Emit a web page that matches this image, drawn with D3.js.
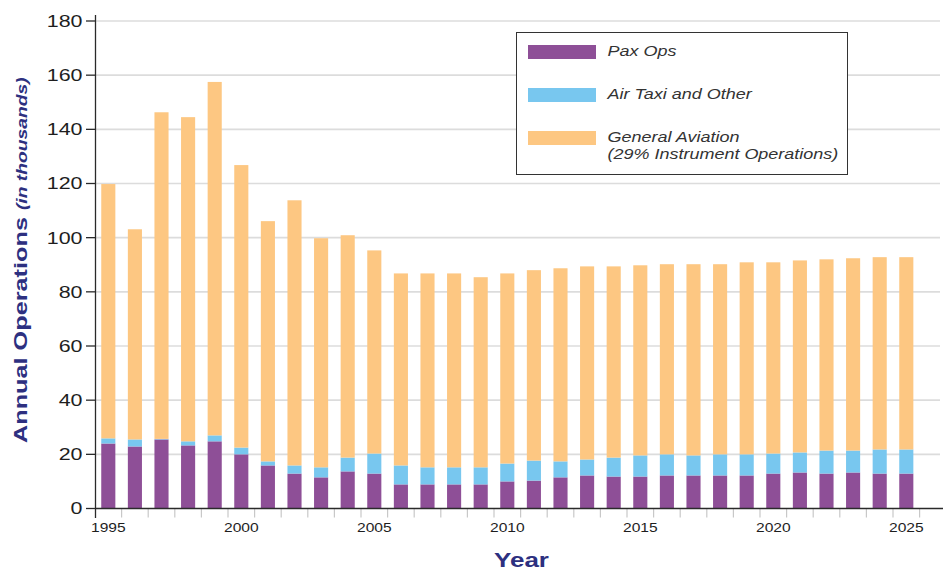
<!DOCTYPE html>
<html>
<head>
<meta charset="utf-8">
<script src="https://cdn.jsdelivr.net/npm/d3@7"></script>
<style>
  html, body { margin: 0; padding: 0; background: #fff; }
  svg { display: block; font-family: "Liberation Sans", Arial, Helvetica, sans-serif; }
</style>
</head>
<body>
<svg id="chart" width="946" height="572"></svg>
<script>
// Annual operations (thousands), 1995–2025
const years = d3.range(1995, 2026);
const paxOps = [24.0, 22.9, 25.5, 23.3, 24.8, 20.0, 15.9, 12.9, 11.5, 13.7, 12.9, 8.9, 8.9, 8.9, 8.9, 10.0,
                10.3, 11.5, 12.2, 11.8, 11.8, 12.2, 12.2, 12.2, 12.2, 12.9, 13.3, 12.9, 13.3, 12.9, 12.9];
const airTaxi = [1.9, 2.6, 0.2, 1.5, 2.2, 2.5, 1.5, 3.0, 3.7, 5.1, 7.4, 7.0, 6.3, 6.3, 6.3, 6.6,
                 7.4, 5.9, 5.9, 7.0, 7.8, 7.8, 7.4, 7.8, 7.8, 7.4, 7.4, 8.5, 8.1, 8.9, 8.9];
const generalAviation = [93.9, 77.6, 120.6, 119.7, 130.5, 104.3, 88.7, 97.9, 84.6, 82.1, 75.0, 70.9, 71.6, 71.6, 70.2, 70.2,
                         70.3, 71.3, 71.3, 70.6, 70.2, 70.2, 70.6, 70.2, 70.9, 70.6, 70.9, 70.6, 71.0, 71.0, 71.0];
const yTicks = [0, 20, 40, 60, 80, 100, 120, 140, 160, 180];
const xLabelYears = [1995, 2000, 2005, 2010, 2015, 2020, 2025];
const seriesKeys = ["pax", "taxi", "ga"];
const seriesNames = ["Pax Ops", "Air Taxi and Other", ["General Aviation", "(29% Instrument Operations)"]];
const seriesColors = ["#8e4f97", "#78c7ef", "#fdc782"];

const rows = years.map((y, i) => ({ year: y, pax: paxOps[i], taxi: airTaxi[i], ga: generalAviation[i] }));

const svg = d3.select("#chart");
const wide = 1.3; // horizontal stretch for the extended lettering

const x = d3.scaleBand().domain(years).range([95, 919.6]).paddingInner(0.47).paddingOuter(0.235);
const y = d3.scaleLinear().domain([0, 180]).range([508.5, 21]);
const step = x.step();
const gap = (step - x.bandwidth()) / 2;

// horizontal gridlines
svg.append("g").selectAll("line").data(yTicks.filter(d => d > 0)).join("line")
  .attr("x1", 95).attr("x2", 940)
  .attr("y1", d => y(d)).attr("y2", d => y(d))
  .attr("stroke", "#dcdcdc").attr("stroke-width", 1.6);

// stacked bars
const stacked = d3.stack().keys(seriesKeys)(rows);
svg.append("g").selectAll("g").data(stacked).join("g")
  .attr("fill", (d, i) => seriesColors[i])
  .selectAll("rect").data(d => d).join("rect")
  .attr("x", d => x(d.data.year))
  .attr("width", x.bandwidth())
  .attr("y", d => y(d[1]))
  .attr("height", d => y(d[0]) - y(d[1]));

// x tick marks at band boundaries
const bounds = years.map(yr => x(yr) - gap).concat([x(years[years.length - 1]) + x.bandwidth() + gap]);
svg.append("g").selectAll("line").data(bounds.slice(1)).join("line")
  .attr("x1", d => d).attr("x2", d => d)
  .attr("y1", 508.5).attr("y2", 517.5)
  .attr("stroke", "#c8c8c8").attr("stroke-width", 1.2);

// x axis baseline
svg.append("line").attr("x1", 95).attr("x2", 943).attr("y1", 508.5).attr("y2", 508.5)
  .attr("stroke", "#2a2a2a").attr("stroke-width", 1.5);

// y axis
svg.append("line").attr("x1", 95.5).attr("x2", 95.5).attr("y1", 15).attr("y2", 518)
  .attr("stroke", "#2a2a2a").attr("stroke-width", 1.3);
svg.append("g").selectAll("line").data(yTicks).join("line")
  .attr("x1", 86).attr("x2", 95.5)
  .attr("y1", d => y(d)).attr("y2", d => y(d))
  .attr("stroke", "#2a2a2a").attr("stroke-width", 1.3);

// y tick labels
svg.append("g").selectAll("text").data(yTicks).join("text")
  .attr("transform", d => `translate(82.5,${y(d)}) scale(${wide},1)`)
  .attr("text-anchor", "end").attr("dy", "0.36em")
  .attr("font-size", 16.5).attr("fill", "#1e1e1e")
  .text(d => d);

// x tick labels
svg.append("g").selectAll("text").data(xLabelYears).join("text")
  .attr("transform", d => `translate(${x(d) + x.bandwidth() / 2},532.3) scale(${wide},1)`)
  .attr("text-anchor", "middle")
  .attr("font-size", 12).attr("fill", "#1e1e1e")
  .text(d => d);

// axis titles
const titleColor = "#2d3080";
svg.append("text")
  .attr("transform", `translate(521.5,566.5) scale(${wide},1)`)
  .attr("text-anchor", "middle").attr("font-size", 20).attr("font-weight", "bold")
  .attr("fill", titleColor).text("Year");

const yt = svg.append("text")
  .attr("transform", `translate(27,443) rotate(-90) scale(1.33,1)`)
  .attr("font-weight", "bold").attr("fill", titleColor);
yt.append("tspan").attr("font-size", 19).text("Annual Operations ");
yt.append("tspan").attr("font-size", 14.5).attr("font-style", "italic").text("(in thousands)");

// legend
const lg = svg.append("g");
lg.append("rect").attr("x", 516.5).attr("y", 32.5).attr("width", 331).attr("height", 142)
  .attr("fill", "#fff").attr("stroke", "#333").attr("stroke-width", 1);
const rowTop = [45, 88, 131];
seriesKeys.forEach((k, i) => {
  lg.append("rect").attr("x", 528).attr("y", rowTop[i]).attr("width", 68).attr("height", 14)
    .attr("fill", seriesColors[i]);
  const lines = Array.isArray(seriesNames[i]) ? seriesNames[i] : [seriesNames[i]];
  lines.forEach((t, j) => {
    lg.append("text")
      .attr("transform", `translate(607.5,${rowTop[i] + 11 + j * 17}) scale(1.2,1)`)
      .attr("font-size", 15).attr("font-style", "italic").attr("fill", "#333")
      .text(t);
  });
});
</script>
</body>
</html>
